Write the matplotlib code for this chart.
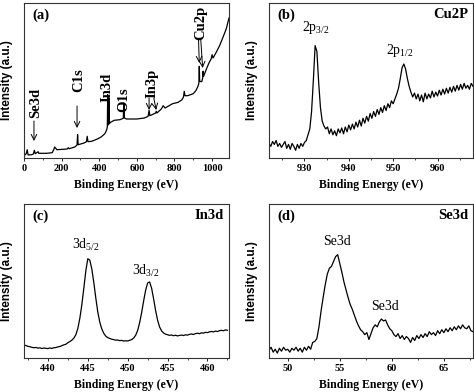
import matplotlib
matplotlib.use('Agg')
import matplotlib.pyplot as plt
from matplotlib.ticker import MultipleLocator
import numpy as np

plt.rcParams['font.family'] = 'Liberation Serif'
plt.rcParams['mathtext.fontset'] = 'custom'
plt.rcParams['mathtext.rm'] = 'Liberation Serif'
plt.rcParams['mathtext.it'] = 'Liberation Serif:italic'

# (a) survey spectrum
survey_E = [0, 5, 12, 17, 22, 40, 50, 55, 60, 75, 78, 120, 150, 158, 163, 175, 230, 235, 240,
            270, 282, 285, 288, 320, 332, 336, 340, 360, 390, 410, 430, 440, 443, 445, 447, 450,
            452, 454, 460, 480, 510, 528, 531, 534, 545, 600, 640, 660, 665, 669, 700, 703, 707,
            730, 740, 750, 790, 820, 840, 848, 852, 856, 870, 900, 915, 925, 930, 932, 934, 945,
            950, 952, 955, 970, 985, 995, 1000, 1005, 1020, 1040, 1060, 1075, 1090]
survey_I = [1.0, 3.3, 4.3, 8.3, 3.0, 3.3, 4.0, 7.7, 4.3, 6.3, 4.7, 4.7, 5.3, 8.3, 11.0, 8.3, 9.0, 10.3, 9.3,
            11.0, 13.0, 23.3, 13.3, 15.0, 16.3, 21.7, 16.3, 16.7, 19.0, 21.0, 24.3, 28.3, 31.0, 63.3, 33.0, 34.3,
            60.0, 34.3, 35.7, 37.7, 38.3, 39.7, 55.0, 40.0, 39.0, 39.0, 40.0, 41.7, 47.7, 42.3, 45.0, 46.7, 45.0,
            49.0, 52.3, 50.0, 54.3, 55.7, 58.3, 61.0, 66.7, 62.3, 62.3, 64.3, 67.7, 71.7, 75.0, 91.7, 76.7, 76.3,
            80.0, 86.7, 81.7, 89.0, 95.7, 99.0, 103.3, 100.0, 105.0, 112.3, 121.7, 129.0, 140.0]

# (b) Cu2p, 0.4 eV steps from 922 eV
cu_start, cu_step = 922.0, 0.4
cu_I = [15, 12, 17, 14, 18, 12, 15, 11, 14, 17, 10, 14, 9, 15, 12, 8, 14, 10, 15, 12,
        16, 18, 24, 30, 48, 80, 116, 110, 78, 52, 38, 33, 30,
        32, 25, 30, 24, 28, 23, 30, 26, 31, 25, 32, 27, 34, 29,
        35, 30, 37, 32, 39, 33, 41, 36, 43, 38, 46, 41, 48, 43, 50, 45, 52, 47, 54, 49, 56, 52, 59,
        56, 61, 66, 72, 82, 93, 97, 92, 82, 74, 68, 63, 67, 61, 66, 59, 65, 58, 67, 61, 66, 62, 69,
        63, 68, 64, 70, 65, 71, 66, 72, 67, 73, 68, 74, 69, 75, 70, 76, 71, 77, 72, 75, 71, 77, 74]

# (c) In3d, 0.25 eV steps from 437 eV
in_start, in_step = 437.0, 0.25
in_I = [13.5, 12.8, 12.0, 11.6, 11.0, 10.6, 10.9, 10.2, 10.5, 9.8, 10.3, 10.0, 9.7, 10.4, 9.9, 10.6,
        10.8, 11.5, 11.9, 12.8, 13.6, 14.2, 15.8, 17.0, 18.4, 20.5, 24.0, 30.5, 41.0, 55.0, 72.0, 90.0,
        102.5, 101.0, 92.0, 78.0, 62.0, 47.5, 37.0, 30.0, 25.5, 22.6, 21.0, 20.2, 19.4, 19.0, 18.4, 18.6,
        17.9, 18.2, 17.5, 17.8, 17.6, 18.3, 19.0, 20.6, 23.5, 28.5, 36.5, 47.0, 59.0, 70.0, 77.5, 78.5,
        72.0, 61.0, 49.0, 39.0, 32.0, 28.0, 25.8, 24.6, 24.0, 23.4, 23.8, 23.0, 23.5, 22.8, 23.3, 23.7,
        23.2, 24.0, 23.6, 24.4, 24.8, 24.3, 25.2, 25.6, 25.1, 26.0, 25.7, 26.5, 26.2, 27.0, 27.4, 26.9,
        27.8, 27.3, 28.2, 28.6, 28.1, 29.0, 28.6]

# (d) Se3d, 0.2 eV steps from 48.2 eV
se_start, se_step = 48.2, 0.2
se_I = [8, 11, 6, 9, 5, 10, 7, 11, 8, 9, 6, 10, 8, 11, 7, 10, 6, 11, 8, 12, 9,
        16, 17, 20, 32, 48, 62, 75, 86, 92, 94, 99, 104, 106, 97, 88, 78, 70, 62, 55, 50, 44, 38, 33,
        29, 27, 24, 26, 19, 25, 31, 34, 32, 37, 40, 38, 39, 34, 30, 28, 24, 22, 25, 20, 23, 19, 22,
        20, 16, 21, 18, 23, 20, 24, 21, 25, 22, 27, 24, 26, 23, 28, 25, 29, 26, 30, 27, 31, 28, 32,
        29, 33, 30, 34, 31, 30, 33, 28, 27]

cu_E = cu_start + cu_step * np.arange(len(cu_I))
in_E = in_start + in_step * np.arange(len(in_I))
se_E = se_start + se_step * np.arange(len(se_I))

fig = plt.figure(figsize=(4.74, 3.92), dpi=100)
W, H = 474, 392


def add_ax(l, r, t, b):
    return fig.add_axes([l / W, 1 - b / H, (r - l) / W, (b - t) / H])


ax_a = add_ax(24, 229, 3, 158)
ax_b = add_ax(269, 473, 3, 158)
ax_c = add_ax(24, 229, 204, 358)
ax_d = add_ax(269, 473, 204, 358)

panels = [
    (ax_a, survey_E, survey_I, (0, 1090), (0, 155), 200, 100, '(a)', None),
    (ax_b, cu_E, cu_I, (922, 968), (0, 160), 10, 5, '(b)', 'Cu2P'),
    (ax_c, in_E, in_I, (437, 462.7), (0, 159), 5, 2.5, '(c)', 'In3d'),
    (ax_d, se_E, se_I, (48.2, 67.8), (0, 158), 5, 2.5, '(d)', 'Se3d'),
]

for ax, xs, ys, xl, yl, major, minor, tag, name in panels:
    ax.plot(xs, ys, color='black', lw=0.9)
    ax.set_xlim(*xl)
    ax.set_ylim(*yl)
    ax.xaxis.set_major_locator(MultipleLocator(major))
    ax.xaxis.set_minor_locator(MultipleLocator(minor))
    ax.set_yticks([])
    ax.tick_params(axis='x', which='major', direction='out', length=2.5, width=0.6, pad=2,
                   labelsize=7.5)
    ax.tick_params(axis='x', which='minor', direction='out', length=1.5, width=0.5)
    for lbl in ax.get_xticklabels():
        lbl.set_fontweight('bold')
    for sp in ax.spines.values():
        sp.set_color('#333333')
        sp.set_linewidth(0.8)
    ax.set_xlabel('Binding Energy (eV)', fontsize=8.5, fontweight='bold', labelpad=4)
    ax.set_ylabel('Intensity (a.u.)', family='Liberation Sans', fontsize=8.5, fontweight='bold')
    ax.yaxis.set_label_coords(-0.055, 0.5)
    ax.text(0.04, 0.965, tag, transform=ax.transAxes, ha='left', va='top', fontsize=10.5,
            fontweight='bold')
    if name:
        ax.text(0.975, 0.965, name, transform=ax.transAxes, ha='right', va='top', fontsize=10.5,
                fontweight='bold')

# survey labels with arrows
arr = dict(arrowstyle='->', lw=0.7, color='black', shrinkA=0, shrinkB=0)
survey_labels = [('Se3d', 64, 40), ('C1s', 292, 66), ('In3d', 440, 56), ('O1s', 528, 46),
                 ('In3p', 678, 60), ('Cu2p', 938, 118)]
for txt, x, y in survey_labels:
    ax_a.text(x, y, txt, rotation=90, ha='center', va='bottom', fontsize=10.5, fontweight='bold')
survey_arrows = [((53, 37), (53, 17)), ((282, 52), (282, 30)), ((665, 60), (665, 48)),
                 ((690, 60), (703, 48)), ((928, 118), (932, 95)), ((940, 118), (950, 90))]
for (x0, y0), (x1, y1) in survey_arrows:
    ax_a.annotate('', xy=(x1, y1), xytext=(x0, y0), arrowprops=arr)

# peak labels
ax_b.text(932.6, 126, r'2p$_{\mathrm{3/2}}$', ha='center', va='bottom', fontsize=10)
ax_b.text(951.6, 102, r'2p$_{\mathrm{1/2}}$', ha='center', va='bottom', fontsize=10)
ax_c.text(444.8, 108, r'3d$_{\mathrm{5/2}}$', ha='center', va='bottom', fontsize=10)
ax_c.text(452.3, 82, r'3d$_{\mathrm{3/2}}$', ha='center', va='bottom', fontsize=10)
ax_d.text(54.7, 113, 'Se3d', ha='center', va='bottom', fontsize=10)
ax_d.text(59.3, 46, 'Se3d', ha='center', va='bottom', fontsize=10)

fig.savefig('out.png', dpi=100)
